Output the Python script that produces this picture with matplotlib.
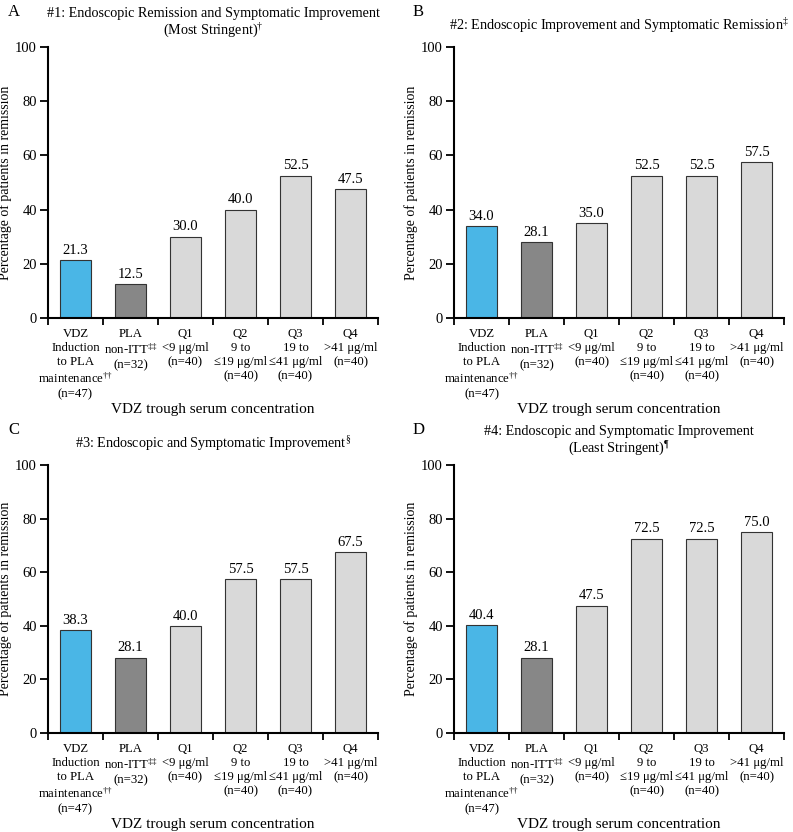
import matplotlib
matplotlib.use("Agg")
import matplotlib.pyplot as plt

plt.rcParams['font.family'] = ['Liberation Serif', 'DejaVu Serif']
plt.rcParams['mathtext.fontset'] = 'custom'
plt.rcParams['mathtext.rm'] = 'Liberation Serif'
plt.rcParams['mathtext.it'] = 'Liberation Serif:italic'
plt.rcParams['mathtext.default'] = 'rm'

categories = [
    "VDZ\nInduction\nto PLA\nmaintenance$^{\u2020\u2020}$\n(n=47)",
    "PLA\nnon-ITT$^{\u2021\u2021}$\n(n=32)",
    "Q1\n<9 \u03bcg/ml\n(n=40)",
    "Q2\n9 to\n\u226419 \u03bcg/ml\n(n=40)",
    "Q3\n19 to\n\u226441 \u03bcg/ml\n(n=40)",
    "Q4\n>41 \u03bcg/ml\n(n=40)",
]

vals_a = [21.3, 12.5, 30.0, 40.0, 52.5, 47.5]
vals_b = [34.0, 28.1, 35.0, 52.5, 52.5, 57.5]
vals_c = [38.3, 28.1, 40.0, 57.5, 57.5, 67.5]
vals_d = [40.4, 28.1, 47.5, 72.5, 72.5, 75.0]

titles = [
    "#1: Endoscopic Remission and Symptomatic Improvement\n(Most Stringent)$^{\u2020}$",
    "#2: Endoscopic Improvement and Symptomatic Remission$^{\u2021}$",
    "#3: Endoscopic and Symptomatic Improvement$^{\u00a7}$",
    "#4: Endoscopic and Symptomatic Improvement\n(Least Stringent)$^{\u00b6}$",
]
letters = ["A", "B", "C", "D"]
yticks = [0, 20, 40, 60, 80, 100]
xlabel = "VDZ trough serum concentration"
ylabel = "Percentage of patients in remission"

colors = ["#4ab6e6", "#878787", "#d9d9d9", "#d9d9d9", "#d9d9d9", "#d9d9d9"]

W, H = 793, 832
fig = plt.figure(figsize=(W / 100, H / 100), dpi=100)

# axes boxes in pixels: (left, top, right, bottom)
boxes = [(48, 47, 378, 318), (454, 47, 784, 318), (48, 465, 378, 733), (454, 465, 784, 733)]
letter_pos = [(8, 12), (413, 12), (8, 430), (413, 430)]
all_vals = [vals_a, vals_b, vals_c, vals_d]

for i in range(4):
    l, t, r, b = boxes[i]
    ax = fig.add_axes([l / W, 1 - b / H, (r - l) / W, (b - t) / H])
    vals = all_vals[i]
    x = list(range(len(vals)))
    ax.bar(x, vals, width=0.55, color=colors, edgecolor="#333333", linewidth=0.8, zorder=2)
    for xi, v in zip(x, vals):
        ax.text(xi, v + 1.2, f"{v:.1f}", ha="center", va="bottom", fontsize=10.5)
    ax.set_xlim(-0.5, 5.5)
    ax.set_ylim(0, 100)
    ax.set_yticks(yticks)
    ax.set_yticklabels([str(v) for v in yticks], fontsize=10.5)
    ax.set_xticks(x)
    ax.set_xticklabels(categories, fontsize=9.2, linespacing=1.25, va="top")
    ax.set_xticks([k - 0.5 for k in range(7)], minor=True)
    ax.tick_params(axis="x", which="major", length=0, pad=7)
    ax.tick_params(axis="x", which="minor", length=5, width=1.3, direction="out")
    ax.tick_params(axis="y", length=6, width=1.3, direction="out", pad=2)
    for s in ["top", "right"]:
        ax.spines[s].set_visible(False)
    for s in ["left", "bottom"]:
        ax.spines[s].set_linewidth(1.5)
    ax.set_xlabel(xlabel, fontsize=11, labelpad=2)
    ax.set_ylabel(ylabel, fontsize=10, labelpad=2)
    ax.set_title(titles[i], fontsize=10.2, pad=12 if "\n" not in titles[i] else 9, linespacing=1.1)
    lx, ly = letter_pos[i]
    fig.text(lx / W, 1 - ly / H, letters[i], fontsize=12, ha="left", va="center")

fig.savefig("out.png", dpi=100)
